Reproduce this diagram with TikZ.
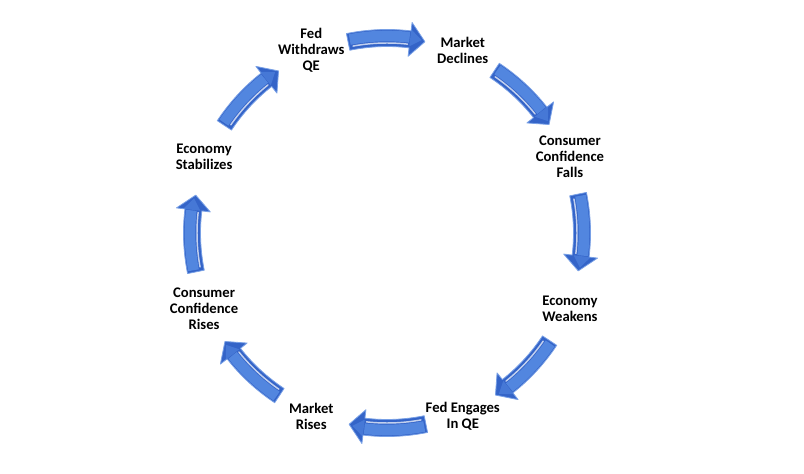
\documentclass[tikz,border=0pt]{standalone}
\usepackage{fontspec}
\setmainfont{Carlito}
\usetikzlibrary{calc}
\definecolor{arrbase}{RGB}{52,100,200}
\definecolor{arrmid}{RGB}{88,140,228}
\definecolor{arredge}{RGB}{120,160,230}
\tikzset{
  lbl/.style={font=\bfseries\fontsize{11}{12}\selectfont, align=center, text=black, inner sep=0pt},
}
\begin{document}
\begin{tikzpicture}[x=0.75pt,y=0.75pt]
\useasboundingbox (0,0) rectangle (804,-474);
\fill[white] (0,0) rectangle (804,-474);
\coordinate (C) at (387,-233);
% arrows
\begin{scope}[shift={(C)}]
\foreach \t in {90,45,0,-45,-90,-135,180,135}{
  \pgfmathsetmacro{\s}{\t+11.5}
  \pgfmathsetmacro{\b}{\t-6.8}
  \pgfmathsetmacro{\e}{\t-11.2}
  \fill[arrbase, draw=arredge, line width=0.6, line join=round]
    (\s:203.5) arc[start angle=\s, end angle=\b, radius=203.5]
    -- (\b:212) -- (\e:195) -- (\b:178) -- (\b:186.5)
    arc[start angle=\b, end angle=\s, radius=186.5] -- cycle;
  \draw[arrmid, line width=8, opacity=0.85]
    (\s-0.6:197) arc[start angle=\s-0.6, end angle=\b+0.2, radius=197];
  \draw[white, line width=1.1, opacity=0.7, line cap=round]
    (\s-1.2:190) arc[start angle=\s-1.2, end angle=\b+0.6, radius=190];
  \fill[arrmid, opacity=0.5]
    (\b:205) -- (\e+1:196) -- (\b:188) -- cycle;
}
\end{scope}
% labels
\node[lbl] (fw) at ($(C)+(112.5:198)$) {Fed\\Withdraws\\QE};
\node[lbl] (md) at ($(C)+(67.5:198)$) {Market\\Declines};
\node[lbl] (ccf) at ($(C)+(22.5:198)$) {Consumer\\Confidence\\Falls};
\node[lbl] (ew) at ($(C)+(-22.5:198)$) {Economy\\Weakens};
\node[lbl] (fe) at ($(C)+(-67.5:198)$) {Fed Engages\\In QE};
\node[lbl] (mr) at ($(C)+(-112.5:198)$) {Market\\Rises};
\node[lbl] (ccr) at ($(C)+(-157.5:198)$) {Consumer\\Confidence\\Rises};
\node[lbl] (es) at ($(C)+(157.5:198)$) {Economy\\Stabilizes};
\end{tikzpicture}
\end{document}
